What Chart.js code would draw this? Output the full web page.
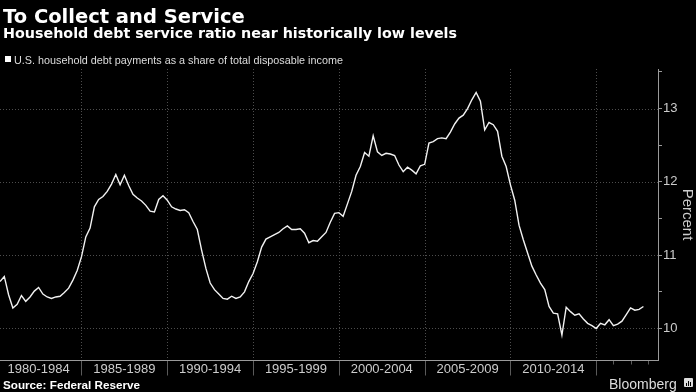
<!DOCTYPE html>
<html lang="en">
<head>
<meta charset="UTF-8">
<script src="https://cdn.jsdelivr.net/npm/chart.js"></script>
<title>To Collect and Service</title>
<style>
  body { margin: 0; background: #000; width: 696px; height: 392px; overflow: hidden; position: relative; }
  #chart { position: absolute; left: 0; top: 0; }
  .txt { position: absolute; white-space: nowrap; line-height: 1; color: #fff; }
  #title { left: 3px; top: 4.5px; font: bold 19.5px "DejaVu Sans"; }
  #subtitle { left: 3px; top: 25px; font: bold 14.3px "DejaVu Sans"; }
  #legend { left: 14px; top: 53.5px; font: 10.8px "Liberation Sans"; color: #ddd; }
  #legendbox { position: absolute; left: 5px; top: 56px; width: 6px; height: 6px; background: #fff; }
  #source { left: 3px; top: 378px; font: bold 11.7px "Liberation Sans"; }
  #brand { left: 609px; top: 376px; font: 14px "Liberation Sans"; color: #ddd; }
  #logo { position: absolute; left: 684px; top: 378px; width: 9px; height: 9px; background: #ddd; border-radius: 1px; }
  #logo i { position: absolute; bottom: 1px; width: 1px; background: #000; }
</style>
</head>
<body>
<canvas id="chart" width="696" height="392"></canvas>
<div class="txt" id="title">To Collect and Service</div>
<div class="txt" id="subtitle">Household debt service ratio near historically low levels</div>
<div id="legendbox"></div>
<div class="txt" id="legend">U.S. household debt payments as a share of total disposable income</div>
<div class="txt" id="source">Source: Federal Reserve</div>
<div class="txt" id="brand">Bloomberg</div>
<div id="logo"><i style="left:2px;height:3px"></i><i style="left:4px;height:5px"></i><i style="left:6px;height:4px"></i></div>

<script>
// quarterly, 1980 Q1 .. 2017 Q3 (percent of disposable income)
const firstYear = 1980;
const debtService = [
  10.64, 10.71, 10.46, 10.28, 10.33, 10.45, 10.37, 10.43, 10.51, 10.56,
  10.47, 10.43, 10.41, 10.43, 10.44, 10.49, 10.55, 10.66, 10.79, 10.98,
  11.25, 11.37, 11.66, 11.76, 11.80, 11.87, 11.97, 12.10, 11.96, 12.09,
  11.95, 11.83, 11.78, 11.74, 11.68, 11.60, 11.59, 11.76, 11.81, 11.75,
  11.66, 11.63, 11.61, 11.62, 11.58, 11.46, 11.35, 11.07, 10.82, 10.62,
  10.53, 10.47, 10.41, 10.40, 10.44, 10.41, 10.43, 10.50, 10.64, 10.75,
  10.91, 11.11, 11.22, 11.25, 11.28, 11.31, 11.36, 11.40, 11.35, 11.35,
  11.36, 11.30, 11.17, 11.20, 11.19, 11.25, 11.31, 11.45, 11.57, 11.58,
  11.53, 11.70, 11.87, 12.09, 12.21, 12.40, 12.35, 12.63, 12.41, 12.36,
  12.39, 12.38, 12.36, 12.23, 12.14, 12.20, 12.16, 12.11, 12.22, 12.24,
  12.53, 12.55, 12.59, 12.60, 12.59, 12.68, 12.79, 12.87, 12.91, 13.00,
  13.12, 13.22, 13.10, 12.71, 12.81, 12.78, 12.69, 12.35, 12.21, 11.96,
  11.75, 11.41, 11.21, 11.03, 10.85, 10.73, 10.62, 10.53, 10.30, 10.21,
  10.20, 9.91, 10.29, 10.23, 10.18, 10.20, 10.13, 10.07, 10.04, 10.00,
  10.07, 10.05, 10.12, 10.04, 10.06, 10.10, 10.19, 10.28, 10.25, 10.26,
  10.30
];
const periodLabels = ['1980-1984', '1985-1989', '1990-1994', '1995-1999', '2000-2004', '2005-2009', '2010-2014'];
const periodStarts = [1980, 1985, 1990, 1995, 2000, 2005, 2010];
const gridYears = [1985, 1990, 1995, 2000, 2005, 2010, 2015];
const minorYears = [2016, 2017, 2018];
const yTicks = [10, 10.5, 11, 11.5, 12, 12.5, 13, 13.5];
const yGrid = [10, 11, 12, 13];

// each quarter is plotted at its end date
const points = debtService.map((v, i) => ({ x: firstYear + (i + 1) / 4, y: v }));

const decorations = {
  id: 'decorations',
  beforeDatasetsDraw(chart) {
    const { ctx, chartArea: a, scales: { x, y } } = chart;
    ctx.save();
    ctx.strokeStyle = '#4d4d4d';
    ctx.lineWidth = 1;
    ctx.setLineDash([1, 2]);
    ctx.beginPath();
    gridYears.forEach(yr => {
      const px = Math.round(x.getPixelForValue(yr)) + 0.5;
      ctx.moveTo(px, a.top); ctx.lineTo(px, a.bottom);
    });
    yGrid.forEach(v => {
      const py = Math.round(y.getPixelForValue(v)) + 0.5;
      ctx.moveTo(a.left, py); ctx.lineTo(a.right, py);
    });
    ctx.stroke();
    ctx.restore();
  },
  afterDraw(chart) {
    const { ctx, chartArea: a, scales: { x } } = chart;
    const base = Math.round(a.bottom) + 0.5;
    ctx.save();
    ctx.lineWidth = 1;
    ctx.strokeStyle = '#5a5a5a';
    ctx.beginPath();
    gridYears.forEach(yr => {
      const px = Math.round(x.getPixelForValue(yr)) + 0.5;
      ctx.moveTo(px, base); ctx.lineTo(px, base + 15);
    });
    minorYears.forEach(yr => {
      const px = Math.round(x.getPixelForValue(yr)) + 0.5;
      ctx.moveTo(px, base); ctx.lineTo(px, base + 4);
    });
    ctx.stroke();
    ctx.strokeStyle = '#9a9a9a';
    ctx.beginPath();
    ctx.moveTo(a.left, base); ctx.lineTo(a.right, base);
    ctx.stroke();
    ctx.fillStyle = '#cccccc';
    ctx.font = '13px "Liberation Sans"';
    ctx.textAlign = 'center';
    ctx.textBaseline = 'alphabetic';
    periodLabels.forEach((lab, i) => {
      ctx.fillText(lab, x.getPixelForValue(periodStarts[i] + 2.5), a.bottom + 13);
    });
    ctx.restore();
  }
};

new Chart(document.getElementById('chart'), {
  type: 'line',
  data: {
    datasets: [{
      data: points,
      borderColor: '#f2f2f2',
      borderWidth: 1.4,
      pointRadius: 0,
      tension: 0
    }]
  },
  options: {
    responsive: false,
    animation: false,
    devicePixelRatio: 1,
    layout: { padding: { top: 69, bottom: 32, left: 0, right: 0 } },
    plugins: { legend: { display: false }, tooltip: { enabled: false } },
    scales: {
      x: { type: 'linear', display: false, min: 1980.25, max: 2018.6 },
      y: {
        position: 'right',
        min: 9.57,
        max: 13.54,
        afterBuildTicks: s => { s.ticks = yTicks.map(v => ({ value: v })); },
        afterFit: s => { s.width = 38; },
        grid: { drawOnChartArea: false, drawTicks: true, tickLength: 4, color: '#9a9a9a' },
        border: { display: true, color: '#9a9a9a' },
        ticks: {
          color: '#cccccc',
          padding: 1,
          font: { family: 'Liberation Sans', size: 13 },
          callback: v => Number.isInteger(v) ? v : ''
        },
        title: {
          display: true,
          text: 'Percent',
          color: '#cccccc',
          padding: 0,
          font: { family: 'Liberation Sans', size: 15 }
        }
      }
    }
  },
  plugins: [decorations]
});
</script>
</body>
</html>
